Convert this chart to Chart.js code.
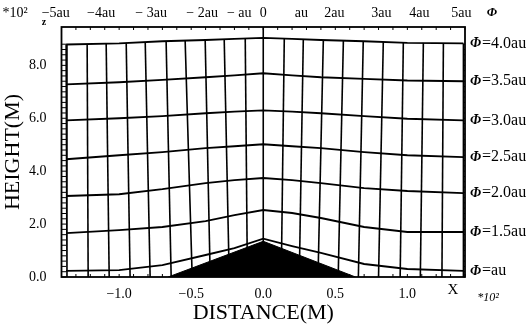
<!DOCTYPE html>
<html>
<head>
<meta charset="utf-8">
<script src="https://cdn.jsdelivr.net/npm/chart.js@4.4.1/dist/chart.umd.min.js"></script>
<style>
  html, body { margin: 0; padding: 0; background: #fff; }
  canvas { display: block; }
</style>
</head>
<body>
<canvas id="flowChart" width="531" height="326"></canvas>
<script>
var SERIF = "'Liberation Serif', 'DejaVu Serif', serif";

// axis ticks
var xTickVals = [-1.0, -0.5, 0, 0.5, 1.0];
var yTickVals = [0, 2, 4, 6, 8];
// potential axis along the top (value, label)
var topTickPos = [-1.44, -1.125, -0.778, -0.424, -0.167, 0, 0.264, 0.493, 0.819, 1.083, 1.375];
var topTickLabels = ["\u22125au", "\u22124au", "\u2212 3au", "\u2212 2au", "\u2212 au", "0", "au", "2au", "3au", "4au", "5au"];

// streamlines, heights read at these x positions
var streamX = [-1.368, -1.0, -0.7, -0.4, -0.2, 0, 0.2, 0.4, 0.7, 1.0, 1.389];
var psi10 = [0.23, 0.26, 0.45, 0.83, 1.09, 1.45, 1.17, 0.91, 0.49, 0.30, 0.23];
var psi15 = [1.66, 1.77, 1.89, 2.11, 2.34, 2.53, 2.42, 2.23, 1.89, 1.70, 1.70];
var psi20 = [3.06, 3.13, 3.32, 3.55, 3.66, 3.74, 3.66, 3.55, 3.36, 3.25, 3.17];
var psi25 = [4.45, 4.60, 4.72, 4.87, 4.94, 5.02, 4.94, 4.87, 4.72, 4.60, 4.53];
var psi30 = [5.92, 6.00, 6.08, 6.19, 6.25, 6.30, 6.25, 6.19, 6.08, 5.98, 5.92];
var psi35 = [7.28, 7.36, 7.45, 7.55, 7.62, 7.70, 7.62, 7.55, 7.49, 7.43, 7.40];
var psi40 = [8.79, 8.83, 8.91, 8.96, 9.00, 9.04, 9.00, 8.96, 8.91, 8.85, 8.83];
var streamNames = ["=au", "=1.5au", "=2.0au", "=2.5au", "=3.0au", "=3.5au", "=4.0au"];

// equipotential lines: top end (on the upper streamline) and foot (ground)
var vTopX = [-1.368, -1.222, -1.090, -0.951, -0.819, -0.674, -0.542, -0.403, -0.271, -0.125, 0,
             0.146, 0.278, 0.417, 0.556, 0.694, 0.833, 0.972, 1.111, 1.250, 1.389];
var vTopY = [8.79, 8.81, 8.83, 8.85, 8.88, 8.90, 8.93, 8.96, 8.99, 9.02, 9.45,
             9.02, 8.99, 8.96, 8.93, 8.91, 8.88, 8.86, 8.85, 8.84, 8.83];
var vBotX = [-1.362, -1.215, -1.069, -0.924, -0.785, -0.639, -0.493, -0.368, -0.236, -0.110, 0,
             0.125, 0.250, 0.380, 0.520, 0.660, 0.800, 0.950, 1.090, 1.240, 1.389];

// the hill
var hillX = [-0.66, 0, 0.64];
var hillY = [0, 1.35, 0];

var streams = [psi10, psi15, psi20, psi25, psi30, psi35, psi40];

var datasets = [];
datasets.push({
  data: hillX.map(function (x, i) { return { x: x, y: hillY[i] }; }),
  showLine: true, pointRadius: 0, borderColor: "#000", borderWidth: 1,
  backgroundColor: "#000", fill: "origin"
});
streams.forEach(function (s) {
  datasets.push({
    data: streamX.map(function (x, i) { return { x: x, y: s[i] }; }),
    showLine: true, pointRadius: 0, borderColor: "#000", borderWidth: 1.9, fill: false
  });
});
for (var i = 0; i < vTopX.length; i++) {
  datasets.push({
    data: [{ x: vTopX[i], y: vTopY[i] }, { x: vBotX[i], y: 0 }],
    showLine: true, pointRadius: 0, borderColor: "#000", borderWidth: 1.6, fill: false
  });
}

function fmt(v) {
  return (v < 0 ? "\u2212" : "") + Math.abs(v).toFixed(1);
}

var decor = {
  id: "decor",
  afterDatasetsDraw: function (chart) {
    var ctx = chart.ctx, a = chart.chartArea;
    var xs = chart.scales.x, ys = chart.scales.y;
    ctx.save();
    ctx.strokeStyle = "#000";
    ctx.fillStyle = "#000";
    ctx.lineWidth = 1.8;
    ctx.strokeRect(a.left, a.top, a.right - a.left, a.bottom - a.top);

    // ruler rungs on both sides
    var inL = xs.getPixelForValue(vTopX[0]);
    var inR = xs.getPixelForValue(vTopX[vTopX.length - 1]);
    ctx.lineWidth = 1;
    for (var k = 0; k <= 44; k++) {
      var py = ys.getPixelForValue(k * 0.2);
      ctx.beginPath();
      ctx.moveTo(a.left, py); ctx.lineTo(inL, py);
      ctx.moveTo(inR, py); ctx.lineTo(a.right, py);
      ctx.stroke();
    }
    // small ticks on top and bottom edge
    for (var j = -14; j <= 14; j++) {
      var px = xs.getPixelForValue(j * 0.1);
      ctx.beginPath();
      ctx.moveTo(px, a.top); ctx.lineTo(px, a.top + 3);
      ctx.moveTo(px, a.bottom); ctx.lineTo(px, a.bottom - 3);
      ctx.stroke();
    }

    // potential labels on top
    ctx.textBaseline = "middle";
    ctx.textAlign = "center";
    ctx.font = "14px " + SERIF;
    for (var t = 0; t < topTickPos.length; t++) {
      ctx.fillText(topTickLabels[t], xs.getPixelForValue(topTickPos[t]), 13);
    }
    ctx.fillText("*10\u00b2", 15, 13);
    ctx.font = "bold italic 13px " + SERIF;
    ctx.fillText("\u03a6", 492, 13);
    ctx.font = "bold 10px " + SERIF;
    ctx.fillText("z", 44, 22);

    // streamline names on the right
    ctx.textAlign = "left";
    streams.forEach(function (s, n) {
      var y = ys.getPixelForValue(s[s.length - 1]);
      var x0 = a.right + 5;
      ctx.font = "bold italic 14px " + SERIF;
      ctx.fillText("\u03a6", x0, y);
      var w = ctx.measureText("\u03a6").width;
      ctx.font = "16px " + SERIF;
      ctx.fillText(streamNames[n], x0 + w + 1, y);
    });

    // x axis end mark
    ctx.textAlign = "center";
    ctx.font = "15px " + SERIF;
    ctx.fillText("X", 453, 290);
    ctx.font = "italic 12px " + SERIF;
    ctx.fillText("*10\u00b2", 488, 298);
    ctx.restore();
  }
};

var ctx = document.getElementById("flowChart").getContext("2d");
var flowChart = new Chart(ctx, {
  type: "scatter",
  data: { datasets: datasets },
  options: {
    responsive: false,
    animation: false,
    devicePixelRatio: 1,
    layout: { padding: { left: 0, right: 66, top: 27, bottom: 0 } },
    plugins: { legend: { display: false }, tooltip: { enabled: false } },
    scales: {
      x: {
        type: "linear", min: -1.4, max: 1.4,
        afterBuildTicks: function (s) { s.ticks = xTickVals.map(function (v) { return { value: v }; }); },
        afterFit: function (s) { s.height = 49; },
        grid: { display: false, drawTicks: false },
        border: { display: false },
        ticks: { callback: fmt, color: "#000", font: { family: SERIF, size: 14 }, padding: 9, maxRotation: 0, autoSkip: false },
        title: { display: true, text: "DISTANCE(M)", color: "#000", font: { family: SERIF, size: 22 }, padding: { top: 0, bottom: 0 } }
      },
      y: {
        type: "linear", min: 0, max: 9.45,
        afterBuildTicks: function (s) { s.ticks = yTickVals.map(function (v) { return { value: v }; }); },
        afterFit: function (s) { s.width = 61.5; },
        grid: { display: false, drawTicks: false },
        border: { display: false },
        ticks: { callback: function (v) { return v.toFixed(1); }, color: "#000", font: { family: SERIF, size: 14 }, padding: 15 },
        title: { display: true, text: "HEIGHT(M)", color: "#000", font: { family: SERIF, size: 22 }, padding: { top: 0, bottom: 0 } }
      }
    }
  },
  plugins: [decor]
});
</script>
</body>
</html>
